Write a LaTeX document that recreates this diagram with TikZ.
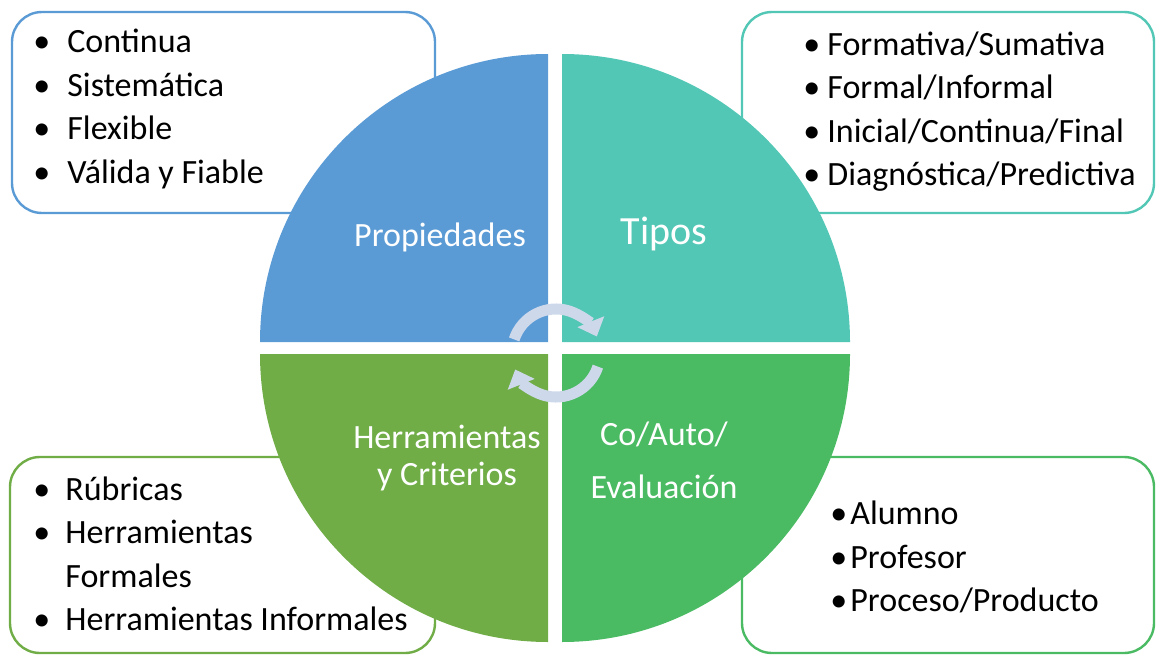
\documentclass[tikz,border=0pt]{standalone}
\usepackage{fontspec}
\setmainfont{Carlito}
\usetikzlibrary{arrows.meta}

\definecolor{propblue}{RGB}{91,155,213}
\definecolor{tipteal}{RGB}{82,199,181}
\definecolor{herrgreen}{RGB}{112,173,71}
\definecolor{cogreen}{RGB}{74,186,99}
\definecolor{arrowgray}{RGB}{205,216,235}

\newcommand{\bul}[2]{\makebox[#1][l]{\textbullet}#2}

\begin{document}
\begin{tikzpicture}[x=0.5pt,y=0.5pt,
listbox/.style={
	rectangle,rounded corners=15pt,line width=1.2pt,
	fill=white,inner sep=0pt,outer sep=0pt},
items/.style={anchor=west,align=left,inner sep=0pt,
	font=\fontsize{17}{21.75}\selectfont},
label/.style={text=white,align=center,inner sep=0pt,
	font=\fontsize{17}{18.5}\selectfont},
turn/.style={line width=5.5pt,draw=arrowgray,
	-{Triangle[width=14pt,length=8pt]}}
]
\useasboundingbox (0,0) rectangle (1156,655);

% cajas de listas
\node[listbox,draw=propblue,minimum width=211.5pt,minimum height=100.5pt] (propbox) at (223.5,542.5) {};
\node[listbox,draw=tipteal,minimum width=206pt,minimum height=100.5pt] (tipbox) at (948,542.5) {};
\node[listbox,draw=herrgreen,minimum width=212.5pt,minimum height=98pt] (herrbox) at (222.5,100) {};
\node[listbox,draw=cogreen,minimum width=206pt,minimum height=98pt] (cobox) at (948,100) {};

% circulo en cuatro partes
\fill[propblue] (548,313) -- ++(-288,0) arc[start angle=180,end angle=90,radius=288] -- cycle;
\fill[tipteal] (562,313) -- ++(0,288) arc[start angle=90,end angle=0,radius=288] -- cycle;
\fill[herrgreen] (548,301) -- ++(0,-288) arc[start angle=270,end angle=180,radius=288] -- cycle;
\fill[cogreen] (562,301) -- ++(288,0) arc[start angle=0,end angle=-90,radius=288] -- cycle;

\node[label] (prop) at (440,418) {Propiedades};
\node[label,font=\fontsize{20}{24}\selectfont] (tip) at (664,421) {Tipos};
\node[label] (herr) at (447,197) {Herramientas\\y Criterios};
\node[label,font=\fontsize{17}{26.5}\selectfont] (co) at (664,195) {Co/Auto/\\Evaluación};

% flechas del centro
\coordinate (c) at (556,302);
\draw[turn] ([shift={(162:44)}]c) arc[start angle=162,end angle=22,radius=44];
\draw[turn] ([shift={(-18:44)}]c) arc[start angle=-18,end angle=-158,radius=44];

% listas
\node[items] (propitems) at (33,546) {\bul{17pt}{Continua}\\
\bul{17pt}{Sistemática}\\
\bul{17pt}{Flexible}\\
\bul{17pt}{Válida y Fiable}};
\node[items] (tipitems) at (803,543.5) {\bul{12pt}{Formativa/Sumativa}\\
\bul{12pt}{Formal/Informal}\\
\bul{12pt}{Inicial/Continua/Final}\\
\bul{12pt}{Diagnóstica/Predictiva}};
\node[items] (herritems) at (33,101) {\bul{16pt}{Rúbricas}\\
\bul{16pt}{Herramientas}\\
\hspace*{16pt}Formales\\
\bul{16pt}{Herramientas Informales}};
\node[items] (coitems) at (830,98) {\bul{10pt}{Alumno}\\
\bul{10pt}{Profesor}\\
\bul{10pt}{Proceso/Producto}};
\end{tikzpicture}
\end{document}
